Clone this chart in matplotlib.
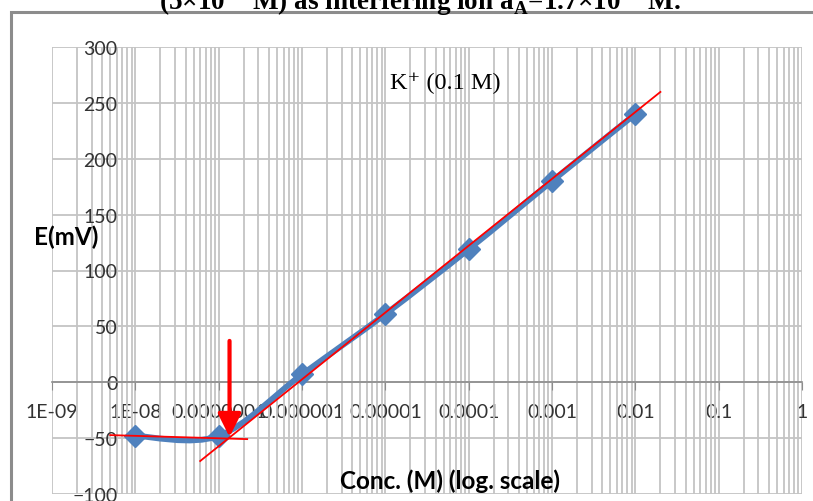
import numpy as np
import matplotlib.pyplot as plt
from matplotlib.path import Path
from matplotlib.patches import PathPatch, Rectangle
from matplotlib.ticker import LogLocator, FixedLocator, FixedFormatter, NullFormatter


#-------------------------------
# K+ ISE CALIBRATION (log scale)
#-------------------------------
conc = [1e-8, 1e-7, 1e-6, 1e-5, 1e-4, 1e-3, 1e-2]
emf = [-48, -48, 7, 61, 119, 180, 240]

# tangent lines used to read the detection limit
fit_x = [6e-8, 0.02]
fit_y = [-70.5, 259.8]
base_x = [5e-9, 2.2e-7]
base_y = [-47.3, -50.9]

# arrow marking the intersection
arrow_x = 1.35e-7
arrow_top = 37
arrow_tip = -49

x_ticks = [1e-9, 1e-8, 1e-7, 1e-6, 1e-5, 1e-4, 1e-3, 1e-2, 1e-1, 1]
x_labels = ["1E-09", "1E-08", "0.0000001", "0.000001", "0.00001",
            "0.0001", "0.001", "0.01", "0.1", "1"]
y_ticks = [-100, -50, 0, 50, 100, 150, 200, 250, 300]

blue = "#4F81BD"
grid_col = "#c4c4c4"
sans = "Lato"
serif = ["Liberation Serif", "DejaVu Serif"]

plt.rcParams["mathtext.fontset"] = "custom"
plt.rcParams["mathtext.rm"] = "Liberation Serif:bold"
plt.rcParams["mathtext.bf"] = "Liberation Serif:bold"


def smooth_path(xs, ys):
	# excel-like smoothed line: bezier segments with catmull-rom handles,
	# built in (log10 x, y) so it looks right on the log axis
	lx = np.log10(xs)
	ys = np.asarray(ys, dtype=float)
	n = len(lx)
	verts = [(xs[0], ys[0])]
	codes = [Path.MOVETO]
	for i in range(n - 1):
		i0 = max(i - 1, 0)
		i3 = min(i + 2, n - 1)
		c1x = lx[i] + (lx[i + 1] - lx[i0]) / 6
		c1y = ys[i] + (ys[i + 1] - ys[i0]) / 6
		c2x = lx[i + 1] - (lx[i3] - lx[i]) / 6
		c2y = ys[i + 1] - (ys[i3] - ys[i]) / 6
		verts += [(10 ** c1x, c1y), (10 ** c2x, c2y), (xs[i + 1], ys[i + 1])]
		codes += [Path.CURVE4] * 3
	return Path(verts, codes)


fig = plt.figure(figsize=(8.13, 5.02), dpi=100)
ax = fig.add_axes([52 / 813, 1 - 495 / 502, 750 / 813, 447 / 502])

ax.set_xscale("log")
ax.set_xlim(1e-9, 1)
ax.set_ylim(-100, 300)

# grid
ax.xaxis.set_major_locator(FixedLocator(x_ticks))
ax.xaxis.set_major_formatter(FixedFormatter(x_labels))
ax.xaxis.set_minor_locator(LogLocator(base=10, subs=range(2, 10), numticks=20))
ax.xaxis.set_minor_formatter(NullFormatter())
ax.set_yticks(y_ticks)
ax.grid(True, which="both", axis="x", color=grid_col, lw=1.3)
ax.grid(True, which="major", axis="y", color=grid_col, lw=1.3)
ax.set_axisbelow(True)

# axes cross at E=0 and at 1E-08
for s in ["top", "right"]:
	ax.spines[s].set_visible(False)
ax.spines["bottom"].set_position(("data", 0))
ax.spines["bottom"].set_color("#8c8c8c")
ax.spines["bottom"].set_linewidth(1.2)
ax.spines["left"].set_position(("data", 1e-8))
ax.spines["left"].set_visible(False)

ax.tick_params(axis="x", which="major", direction="out", length=6,
			   color="#8c8c8c", pad=9, labelsize=14, labelcolor="#333333")
ax.tick_params(axis="x", which="minor", length=0)
ax.tick_params(axis="y", length=0, pad=13, labelsize=14, labelcolor="#333333")
for lab in ax.get_xticklabels() + ax.get_yticklabels():
	lab.set_family(sans)

# data
ax.add_patch(PathPatch(smooth_path(conc, emf), fill=False, ec=blue, lw=4.2,
					   capstyle="round", zorder=3))
ax.plot(conc, emf, ls="none", marker="D", ms=11, color=blue, zorder=4)

# tangents and arrow
ax.plot(fit_x, fit_y, color="red", lw=1.3, zorder=5)
ax.plot(base_x, base_y, color="red", lw=1.3, zorder=5)
ax.annotate("", xy=(arrow_x, arrow_tip), xytext=(arrow_x, arrow_top),
			arrowprops=dict(arrowstyle="-|>,head_length=0.7,head_width=0.35",
							color="red", lw=3, mutation_scale=20,
							shrinkA=0, shrinkB=0), zorder=6)

ax.text(1.15e-5, 268, "K\u207a (0.1 M)", family=serif, fontsize=17.5,
		ha="left", va="center", color="black", zorder=6)

# labels
fig.text(66 / 813, 1 - 237 / 502, "E(mV)", family=sans, fontweight="bold",
		 fontsize=17.5, ha="center", va="center")
fig.text(450 / 813, 1 - 481 / 502, "Conc. (M) (log. scale)", family=sans,
		 fontweight="bold", fontsize=17.5, ha="center", va="center")

# caption line running above the frame
fig.text(420 / 813, 1 - 9.5 / 502,
		 "(5\u00d710$^{-8}$ M) as interfering ion a$_{\\mathrm{A}}$=1.7\u00d710$^{-8}$ M.",
		 family=serif, fontweight="bold", fontsize=19.5, ha="center", va="baseline")

# chart frame
fig.add_artist(Rectangle((11 / 813, -0.2), 2, 1.2 - 13 / 502, fill=False,
						 ec="#8c8c8c", lw=2.2, transform=fig.transFigure))

fig.savefig("out.png", dpi=100)
